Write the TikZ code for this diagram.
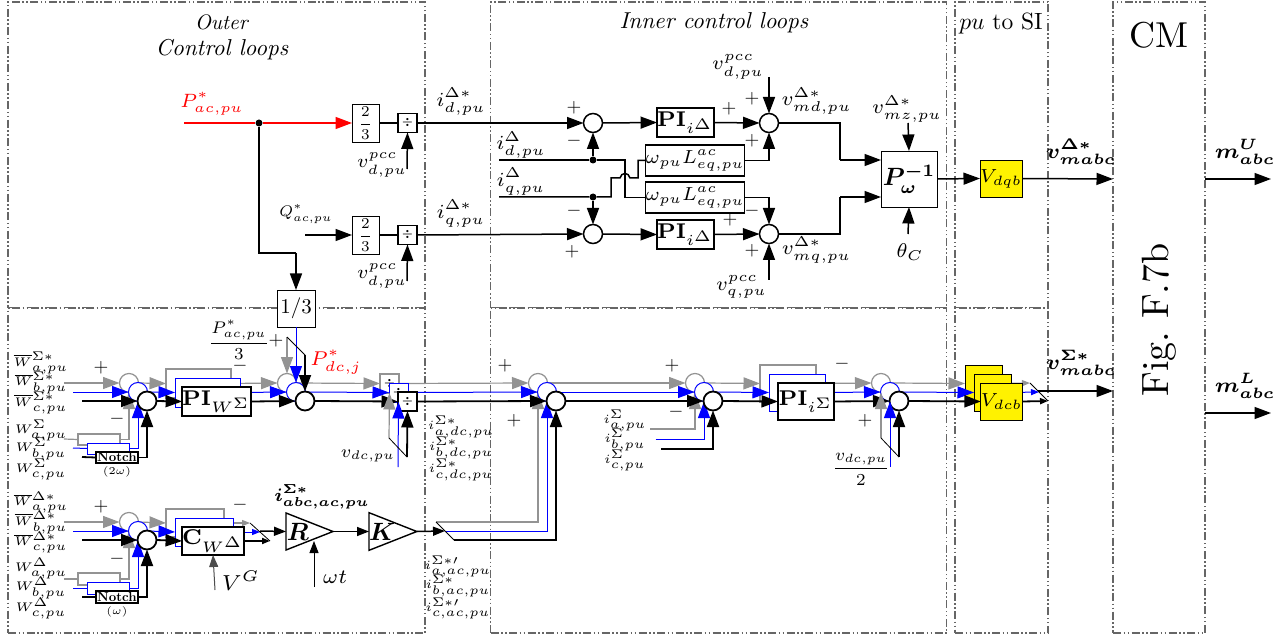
\documentclass[tikz,border=0pt]{standalone}
\usepackage{amsmath,bm,graphicx}
\usetikzlibrary{arrows.meta,shapes.geometric}
\newcommand{\onlyc}[1]{\if c\p #1\fi}
\newcommand{\bmm}[1]{\mbox{\boldmath$#1$}}
\newcommand{\tnb}[2]{\scalebox{#1}{\tiny$#2$}}
\newcommand{\snb}[2]{\scalebox{#1}{\scriptsize$#2$}}
\newcommand{\divs}{\scalebox{1.2}{$\bm{\div}$}}
\tikzset{
  x=1pt,y=-1pt,
  region/.style={draw=black!60,line width=1.2pt,dash pattern=on 8pt off 2.5pt on 1.5pt off 2.5pt on 1.5pt off 2.5pt,minimum height=0pt},
  txt/.style={scale=#1,inner sep=0pt,outer sep=0pt},
  tx/.style={scale=#1,inner sep=0pt,outer sep=0pt,font=\tiny},
  ts/.style={scale=#1,inner sep=0pt,outer sep=0pt,font=\scriptsize},
  big/.style={-{Triangle[length=16.5pt,width=12pt]}},
  mid/.style={-{Triangle[length=12pt,width=9pt]}},
  tiny/.style={-{Triangle[length=8pt,width=6pt]}},
  bl/.style={draw=black,line width=1.5pt},
  thinbl/.style={draw=black,line width=0.8pt},
  pha/.style={draw=gray!85,line width=1.2pt},
  phb/.style={draw=blue,line width=1pt},
  phc/.style={draw=black,line width=1.8pt},
  sumc/.style={circle,minimum size=19pt,inner sep=0pt,outer sep=0pt,fill=white},
  blk/.style={rectangle,minimum width=#1,inner sep=0pt,outer sep=0pt,fill=white},
  tri/.style={isosceles triangle,isosceles triangle apex angle=43,isosceles triangle stretches,minimum width=37pt,minimum height=47pt,inner sep=0pt,outer sep=0pt,line width=1.4pt,draw=black,fill=white,anchor=lower side},
  jdot/.style={circle,fill=black,minimum size=7pt,inner sep=0pt},
}
\begin{document}
\begin{tikzpicture}
\useasboundingbox (0,0) rectangle (1279,636);
% regions
\node[region,blk=417pt,minimum height=306pt] (outerT) at (216.5,155) {};
\node[region,blk=417pt,minimum height=325pt] (outerB) at (216.5,470.5) {};
\node[region,blk=456pt,minimum height=306pt] (innerT) at (718.5,155) {};
\node[region,blk=456pt,minimum height=325pt] (innerB) at (718.5,470.5) {};
\node[region,blk=93pt,minimum height=306pt] (puT) at (1001.5,155) {};
\node[region,blk=93pt,minimum height=325pt] (puB) at (1001.5,470.5) {};
\node[region,blk=92pt,minimum height=631pt] (cm) at (1159,317.5) {};
\node[txt=2.1] (t1) at (222,22) {\textit{Outer}};
\node[txt=2.3] (t2) at (222,50) {\textit{Control loops}};
\node[txt=2.3] (t3) at (714,23) {\textit{Inner control loops}};
\node[txt=2.35] (t4) at (1001,24) {$pu$ to SI};
\node[txt=3.6] (t5) at (1159,35) {CM};
\node[txt=3.8,rotate=90] (t6) at (1159,320) {Fig.\ F.7b};

% ---- upper part ----
\coordinate (pref) at (184,123);
\node[jdot] (j1) at (259,123) {};
\node[blk=27pt,minimum height=38pt,thinbl] (b23a) at (365.5,123) {\scalebox{2.15}{\scriptsize$\dfrac{2}{3}$}};
\node[blk=27pt,minimum height=38pt,thinbl] (b23b) at (365.5,235) {\scalebox{2.15}{\scriptsize$\dfrac{2}{3}$}};
\node[blk=19pt,minimum height=19pt,bl] (da) at (407.5,123) {\divs};
\node[blk=19pt,minimum height=19pt,bl] (db) at (407.5,235) {\divs};
\node[blk=38pt,minimum height=37pt,thinbl] (third) at (296,308.5) {\scalebox{2.1}{$1/3$}};
\coordinate (qref) at (305,235);
\coordinate (turn) at (296,253);
\node[sumc,bl] (st1) at (593,123) {};
\node[sumc,bl] (st2) at (593,234) {};
\node[blk=55pt,minimum height=29pt,bl] (pia) at (685.5,122.5) {\snb{3.05}{\mathbf{PI}_{i^\Delta}}};
\node[blk=55pt,minimum height=29pt,bl] (pib) at (685.5,234.5) {\snb{3.05}{\mathbf{PI}_{i^\Delta}}};
\node[sumc,bl] (st3) at (769,123) {};
\node[sumc,bl] (st4) at (769,234) {};
\node[blk=94pt,minimum height=31pt,bl] (wa) at (695,160.5) {\snb{2.7}{\omega_{pu}L^{ac}_{eq,pu}}};
\node[blk=94pt,minimum height=31pt,bl] (wb) at (695,197.5) {\snb{2.7}{\omega_{pu}L^{ac}_{eq,pu}}};
\node[jdot] (j2) at (593,160) {};
\node[jdot] (j3) at (593,197) {};
\coordinate (idf) at (499,160);
\coordinate (iqf) at (499,197);
\node[blk=56pt,minimum height=56pt,thinbl] (pinv) at (909,179) {\scalebox{2.5}{\boldmath$P_{\omega}^{-1}$}};
\node[blk=38pt,minimum height=37pt,thinbl,fill=yellow] (vq) at (1001,178.5) {\snb{2.7}{V_{dqb}}};
\coordinate (vd1) at (407,169);
\coordinate (vd2) at (407,281);
\coordinate (vt1) at (769,77);
\coordinate (vt2) at (769,280);
\coordinate (vmz) at (908,123);
\coordinate (thc) at (908,234);
\coordinate (cu) at (1113,179);
\coordinate (mus) at (1205,179);
\coordinate (mue) at (1271,179);
\coordinate (mls) at (1205,413);
\coordinate (mle) at (1271,413);
\coordinate (vsw) at (1038,391);
\coordinate (cl) at (1113,391);

\draw[draw=red,line width=1.5pt] (pref) -- (j1);
\draw[draw=red,line width=1.5pt,big,red] (j1) -- (b23a.west);
\draw[bl] (j1) |- (turn);
\draw[bl,big] (turn) -- (third.north);
\draw[bl,big] (qref) -- (b23b.west);
\draw[bl] (b23a.east) -- (da.west);
\draw[bl] (b23b.east) -- (db.west);
\draw[bl,big] (vd1) -- (da.south);
\draw[bl,big] (vd2) -- (db.south);
\draw[bl,big] (da.east) -- (st1.west);
\draw[bl,big] (db.east) -- (st2.west);
\draw[bl,big] (st1.east) -- (pia.west);
\draw[bl,big] (st2.east) -- (pib.west);
\draw[bl,big] (pia.east) -- (st3.west);
\draw[bl,big] (pib.east) -- (st4.west);
\draw[bl,big] (vt1) -- (st3.north);
\draw[bl,big] (vt2) -- (st4.south);
\draw[bl,big] (j2) -- (st1.south);
\draw[bl,big] (j3) -- (st2.north);
\draw[bl,big] (wa.east) -| (st3.south);
\draw[bl,big] (wb.east) -| (st4.north);
\draw[bl] (idf) -- (j2) -- (625,160) -- (625,197.5) -- (wb.west);
\draw[bl] (iqf) -- (j3) -- (611,197) -- (611,178) -- (620,178) .. controls (621,172) and (629,172) .. (630,178) -- (638,178) -- (638,160.5) -- (wa.west);
\draw[bl] (st3.east) -- (840,123) -- (840,160);
\draw[bl,big] (840,160) -- (pinv.west |- 0,160);
\draw[bl] (st4.east) -- (840,234) -- (840,197);
\draw[bl,big] (840,197) -- (pinv.west |- 0,197);
\draw[bl,big] (vmz) -- (pinv.north);
\draw[bl,big] (thc) -- (pinv.south);
\draw[bl,big] (pinv.east) -- (vq.west);
\draw[bl,big] (vq.east) -- (cu);
\draw[bl,big] (mus) -- (mue);
\draw[bl,big] (mls) -- (mle);
\draw[bl,big] (vsw) -- (cl);

% ---- three-phase lower part, drawn gray, then blue, then black ----
\foreach \p/\d in {a/18,b/9,c/0}{
  % first row
  \coordinate (in1\p) at (82-\d,401-\d);
  \coordinate (nin1\p) at (82-\d,457-\d);
  \node[blk=42pt,minimum height=11pt,ph\p] (n1\p) at (117-\d,457.5-\d) {\onlyc{\scalebox{1.3}{\textbf{Notch}}}};
  \node[sumc,ph\p] (s1\p) at (147-\d,401-\d) {};
  \draw[ph\p,big] (in1\p) -- (s1\p.west);
  \draw[ph\p] (nin1\p) -- (n1\p.west);
  \draw[ph\p,big] (n1\p.east) -| (s1\p.south);
  \node[blk=65pt,minimum height=29pt,ph\p] (pi1\p) at (216.5-\d,401.5-\d) {\onlyc{\snb{3.05}{\mathbf{PI}_{W^\Sigma}}}};
  \draw[ph\p,big] (s1\p.east) -- (pi1\p.west);
  \node[sumc,ph\p] (s2\p) at (305-\d,401-\d) {};
  \draw[ph\p,big] (pi1\p.east) -- (s2\p.west);
  \node[blk=19pt,minimum height=19pt,ph\p] (dv\p) at (407.5-\d,401.5-\d) {\divs};
  \draw[ph\p,big] (s2\p.east) -- (dv\p.west);
  \node[sumc,ph\p] (s3\p) at (556-\d,401-\d) {};
  \draw[ph\p,big] (dv\p.east) -- (s3\p.west);
  \coordinate (sw\p) at (454-\d,540-\d);
  \draw[ph\p,big] (sw\p) -| (s3\p.south);
  \node[sumc,ph\p] (s4\p) at (713-\d,401-\d) {};
  \draw[ph\p,big] (s3\p.east) -- (s4\p.west);
  \coordinate (i4\p) at (661-0.6*\d,449-1.11*\d);
  \draw[ph\p,big] (i4\p) -| (s4\p.south);
  \node[blk=56pt,minimum height=37pt,ph\p] (pi2\p) at (806-\d,401.5-\d) {\onlyc{\snb{3.05}{\mathbf{PI}_{i^\Sigma}}}};
  \draw[ph\p,big] (s4\p.east) -- (pi2\p.west);
  \node[sumc,ph\p] (s5\p) at (899-\d,401-\d) {};
  \draw[ph\p,big] (pi2\p.east) -- (s5\p.west);
  \node[blk=37pt,minimum height=37pt,thinbl,fill=yellow] (vd\p) at (1001.5-\d,401.5-\d) {\onlyc{\snb{2.7}{V_{dcb}}}};
  \draw[ph\p,big] (s5\p.east) -- (vd\p.west);
  \coordinate (oe\p) at (1048-\d,401-\d);
  \draw[ph\p,tiny] (vd\p.east) -- (oe\p);
  % second row
  \coordinate (in2\p) at (82-\d,540-\d);
  \coordinate (nin2\p) at (82-\d,597-\d);
  \node[blk=42pt,minimum height=12pt,ph\p] (n2\p) at (117-\d,597-\d) {\onlyc{\scalebox{1.3}{\textbf{Notch}}}};
  \node[sumc,ph\p] (s6\p) at (147-\d,540-\d) {};
  \draw[ph\p,big] (in2\p) -- (s6\p.west);
  \draw[ph\p] (nin2\p) -- (n2\p.west);
  \draw[ph\p,big] (n2\p.east) -| (s6\p.south);
  \node[blk=58pt,minimum height=28pt,ph\p] (cw\p) at (213-\d,541-\d) {\onlyc{\snb{3.05}{\mathbf{C}_{W^\Delta}}}};
  \draw[ph\p,big] (s6\p.east) -- (cw\p.west);
  \coordinate (ce\p) at (270-1.11*\d,541-\d);
  \draw[ph\p,tiny] (cw\p.east) -- (ce\p);
}
% vertical feeds
\coordinate (fa) at (287,337); \coordinate (fc) at (305,355);
\coordinate (ga) at (389,438); \coordinate (gb) at (398,467); \coordinate (gc) at (407,457);
\coordinate (ha) at (881,438); \coordinate (hb) at (890,467); \coordinate (hc) at (899,457);
\draw[pha,big] (fa) -- (s2a.north);
\draw[phb,big] (third.south) -- (s2b.north);
\draw[phc,big] (fc) -- (s2c.north);
\draw[thinbl] (fa) -- (fc);
\draw[pha,big] (ga) -- (dva.south);
\draw[phb,big] (gb) -- (dvb.south);
\draw[phc,big] (gc) -- (dvc.south);
\draw[thinbl] (ga) -- (gc);
\draw[pha,big] (ha) -- (s5a.south);
\draw[phb,big] (hb) -- (s5b.south);
\draw[phc,big] (hc) -- (s5c.south);
\draw[thinbl] (ha) -- (hc);
\draw[thinbl] (swa) -- (swc);
\draw[thinbl] (cea) -- (cec);
\draw[thinbl] (oea) -- (oec);
% modulators
\coordinate (cm2) at (260,531);
\coordinate (swm) at (445,531);
\node[tri] (R) at (286,531.5) {\scalebox{2.5}{\boldmath$R$}};
\node[tri] (K) at (369,531.5) {\scalebox{2.5}{\boldmath$K$}};
\coordinate (wt) at (314,587);
\coordinate (vg) at (215,590);
\draw[bl,mid] (cm2) -- (R.lower side);
\draw[bl,mid] (R.apex) -- (K.lower side);
\draw[bl,mid] (K.apex) -- (swm);
\draw[thinbl,mid,line width=1pt] (wt) -- (314,541);
\draw[draw=black!70,line width=1pt,mid] (vg) -- (cwc.south);

% ---- labels ----
\node[ts=2.75,red] (lp) at (212,104) {$P^*_{ac,pu}$};
\node[ts=2.2] (lq) at (306,214) {$Q^*_{ac,pu}$};
\node[ts=2.85] (l1) at (461,101.5) {$i^{\Delta*}_{d,pu}$};
\node[ts=2.85] (l2) at (461,213.5) {$i^{\Delta*}_{q,pu}$};
\node[ts=2.7] (l3) at (382,165) {$v^{pcc}_{d,pu}$};
\node[ts=2.7] (l4) at (382,276) {$v^{pcc}_{d,pu}$};
\node[ts=2.8] (l5) at (738,67) {$v^{pcc}_{d,pu}$};
\node[ts=2.8] (l6) at (741.5,287) {$v^{pcc}_{q,pu}$};
\node[ts=2.85] (l7) at (816.5,101) {$v^{\Delta*}_{md,pu}$};
\node[ts=2.85] (l8) at (816.5,250) {$v^{\Delta*}_{mq,pu}$};
\node[ts=2.85] (l9) at (907,109) {$v^{\Delta*}_{mz,pu}$};
\node[ts=2.85] (l10) at (910,252) {$\theta_C$};
\node[ts=2.85] (l11) at (521,145) {$i^{\Delta}_{d,pu}$};
\node[ts=2.85] (l12) at (521,181.5) {$i^{\Delta}_{q,pu}$};
\node[ts=3] (l13) at (1081,151.5) {\bmm{v^{\Delta*}_{mabc}}};
\node[ts=3] (l14) at (1081,363) {\bmm{v^{\Sigma*}_{mabc}}};
\node[ts=3] (l15) at (1245,151.5) {\bmm{m^{U}_{abc}}};
\node[ts=3] (l16) at (1245,386) {\bmm{m^{L}_{abc}}};
\node[txt=1.9] (sg1) at (574,108) {$+$};
\node[txt=1.9] (sg2) at (574,141) {$-$};
\node[txt=1.9] (sg3) at (729,109) {$+$};
\node[txt=1.9] (sg4) at (752,99) {$+$};
\node[txt=1.9] (sg5) at (752,141) {$+$};
\node[txt=1.9] (sg6) at (574,211) {$-$};
\node[txt=1.9] (sg7) at (572,252) {$+$};
\node[txt=1.9] (sg8) at (730,220) {$+$};
\node[txt=1.9] (sg9) at (752,211) {$-$};
\node[txt=1.9] (sg10) at (752,251) {$+$};
% left labels
\node[tx=2.5] (a1) at (41,363) {$\overline{W}^{\Sigma*}_{a,pu}$};
\node[tx=2.5] (a2) at (41,383) {$\overline{W}^{\Sigma*}_{b,pu}$};
\node[tx=2.5] (a3) at (41,403) {$\overline{W}^{\Sigma*}_{c,pu}$};
\node[tx=2.5] (a4) at (41,430) {$W^{\Sigma}_{a,pu}$};
\node[tx=2.5] (a5) at (41,449) {$W^{\Sigma}_{b,pu}$};
\node[tx=2.5] (a6) at (41,469) {$W^{\Sigma}_{c,pu}$};
\node[tx=2.1] (a7) at (117,472) {$(2\omega)$};
\node[tx=2.5] (b1) at (41,502.5) {$\overline{W}^{\Delta*}_{a,pu}$};
\node[tx=2.5] (b2) at (41,522.5) {$\overline{W}^{\Delta*}_{b,pu}$};
\node[tx=2.5] (b3) at (41,542.5) {$\overline{W}^{\Delta*}_{c,pu}$};
\node[tx=2.5] (b4) at (41,568) {$W^{\Delta}_{a,pu}$};
\node[tx=2.5] (b5) at (41,588) {$W^{\Delta}_{b,pu}$};
\node[tx=2.5] (b6) at (41,608) {$W^{\Delta}_{c,pu}$};
\node[tx=2.1] (b7) at (117,612) {$(\omega)$};
\node[txt=1.9] (sg11) at (101,368) {$+$};
\node[txt=1.9] (sg12) at (117,419) {$-$};
\node[txt=1.9] (sg13) at (240,366) {$-$};
\node[txt=1.9] (sg14) at (101,507) {$+$};
\node[txt=1.9] (sg15) at (117,559) {$-$};
\node[txt=1.9] (sg16) at (240,505) {$-$};
\node[txt=1.9] (sg17) at (276,341) {$+$};
\node[txt=1.9] (sg18) at (505,366) {$+$};
\node[txt=1.9] (sg19) at (514,421) {$+$};
\node[txt=1.9] (sg20) at (672,366) {$+$};
\node[txt=1.9] (sg21) at (676,412) {$-$};
\node[txt=1.9] (sg22) at (842,364) {$-$};
\node[txt=1.9] (sg23) at (865,421) {$+$};
\node[ts=2.4] (c1) at (239,340) {$\dfrac{P^*_{ac,pu}}{3}$};
\node[ts=2.85,red] (c2) at (336,362) {$P^*_{dc,j}$};
\node[ts=2.5] (c3) at (368,456) {$v_{dc,pu}$};
\node[ts=2.4] (c4) at (861,469) {$\dfrac{v_{dc,pu}}{2}$};
\node[ts=2.6] (c5) at (322,497) {\bmm{i^{\Sigma*}_{abc,ac,pu}}};
\node[ts=3.1] (c6) at (241,581) {$V^G$};
\node[ts=2.9] (c7) at (335,577) {$\omega t$};
\node[tx=2.5] (d1) at (461,427) {$i^{\Sigma*}_{a,dc,pu}$};
\node[tx=2.5] (d2) at (461,448) {$i^{\Sigma*}_{b,dc,pu}$};
\node[tx=2.5] (d3) at (461,470) {$i^{\Sigma*}_{c,dc,pu}$};
\node[tx=2.5] (d4) at (458,566) {$i^{\Sigma*\prime}_{a,ac,pu}$};
\node[tx=2.5] (d5) at (458,586) {$i^{\Sigma*}_{b,ac,pu}$};
\node[tx=2.5] (d6) at (458,608) {$i^{\Sigma*\prime}_{c,ac,pu}$};
\node[tx=2.5] (e1) at (625,420) {$i^{\Sigma}_{a,pu}$};
\node[tx=2.5] (e2) at (625,440) {$i^{\Sigma}_{b,pu}$};
\node[tx=2.5] (e3) at (625,460) {$i^{\Sigma}_{c,pu}$};
\end{tikzpicture}
\end{document}
